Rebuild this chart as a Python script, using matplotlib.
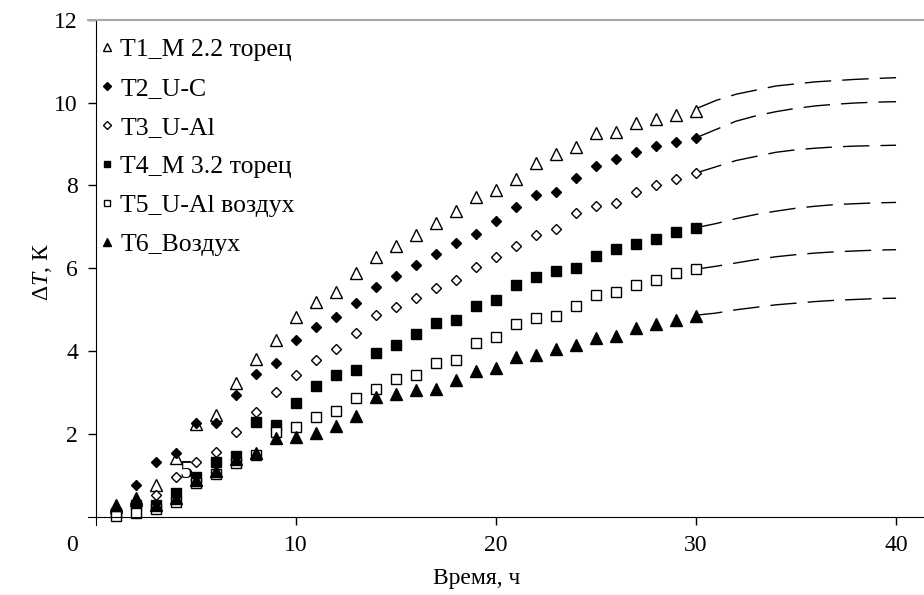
import numpy as np
import matplotlib.pyplot as plt

plt.rcParams['font.family'] = ['Liberation Serif', 'DejaVu Serif']
plt.rcParams['mathtext.fontset'] = 'custom'
plt.rcParams['mathtext.it'] = 'Liberation Serif:italic'
plt.rcParams['mathtext.rm'] = 'Liberation Serif'

# время замеров, ч
t = np.arange(1, 31)

T1 = [0.25, 0.45, 0.77, 1.42, 2.25, 2.46, 3.24, 3.81, 4.27, 4.83,
      5.19, 5.44, 5.88, 6.27, 6.54, 6.80, 7.09, 7.39, 7.71, 7.89,
      8.15, 8.55, 8.76, 8.93, 9.27, 9.30, 9.50, 9.60, 9.70, 9.80]
T2 = [0.20, 0.77, 1.33, 1.54, 2.26, 2.26, 2.94, 3.44, 3.72, 4.27,
      4.59, 4.83, 5.17, 5.54, 5.81, 6.07, 6.34, 6.60, 6.83, 7.14,
      7.47, 7.77, 7.85, 8.17, 8.48, 8.64, 8.80, 8.95, 9.05, 9.14]
T3 = [0.15, 0.35, 0.53, 0.97, 1.33, 1.58, 2.05, 2.54, 3.02, 3.42,
      3.80, 4.05, 4.43, 4.87, 5.07, 5.28, 5.52, 5.73, 6.04, 6.28,
      6.55, 6.80, 6.96, 7.34, 7.50, 7.57, 7.85, 8.00, 8.16, 8.29]
T4 = [0.10, 0.30, 0.29, 0.57, 0.97, 1.33, 1.48, 2.29, 2.22, 2.76,
      3.16, 3.43, 3.55, 3.95, 4.14, 4.41, 4.69, 4.75, 5.09, 5.24,
      5.59, 5.78, 5.94, 6.02, 6.30, 6.46, 6.58, 6.70, 6.88, 6.98]
T5 = [0.03, 0.10, 0.20, 0.37, 0.83, 1.05, 1.30, 1.50, 2.06, 2.18,
      2.41, 2.56, 2.88, 3.10, 3.32, 3.43, 3.71, 3.79, 4.19, 4.35,
      4.65, 4.81, 4.85, 5.09, 5.36, 5.44, 5.60, 5.72, 5.88, 5.98]
T6 = [0.30, 0.40, 0.30, 0.45, 0.90, 1.10, 1.40, 1.55, 1.90, 1.93,
      2.02, 2.20, 2.44, 2.90, 2.97, 3.06, 3.10, 3.30, 3.53, 3.59,
      3.85, 3.91, 4.05, 4.15, 4.31, 4.37, 4.55, 4.65, 4.75, 4.86]

# прогноз на 30-40 ч
t_pr = np.arange(30, 41)
T1_pr = [9.85, 10.05, 10.20, 10.30, 10.40, 10.45, 10.50, 10.53, 10.56, 10.58, 10.60]
T2_pr = [9.15, 9.35, 9.55, 9.68, 9.78, 9.86, 9.92, 9.96, 9.99, 10.01, 10.02]
T3_pr = [8.30, 8.45, 8.60, 8.70, 8.80, 8.86, 8.90, 8.93, 8.95, 8.96, 8.97]
T4_pr = [6.98, 7.08, 7.20, 7.30, 7.38, 7.45, 7.50, 7.54, 7.56, 7.58, 7.59]
T5_pr = [5.98, 6.05, 6.13, 6.21, 6.28, 6.33, 6.37, 6.40, 6.42, 6.44, 6.45]
T6_pr = [4.87, 4.92, 5.00, 5.06, 5.12, 5.16, 5.20, 5.23, 5.25, 5.27, 5.28]

names = ['T1_M 2.2 торец', 'T2_U-C', 'T3_U-Al', 'T4_M 3.2 торец',
         'T5_U-Al воздух', 'T6_Воздух']
dannye = [T1, T2, T3, T4, T5, T6]
prognoz = [T1_pr, T2_pr, T3_pr, T4_pr, T5_pr, T6_pr]

markery = ['^', 'D', 'D', 's', 's', '^']
zalivka = ['white', 'black', 'white', 'black', 'white', 'black']
razmery = [8, 5.5, 5.5, 7, 7, 8]

fig = plt.figure(figsize=(9.24, 5.95), dpi=100)
ax = fig.add_axes([0.0952, 0.1171, 0.9048, 0.8499])

for y, yp, m, fc, ms, name in zip(dannye, prognoz, markery, zalivka, razmery, names):
    ax.plot(t_pr, yp, color='black', lw=1, dashes=(19, 8), zorder=1)
    ax.plot(t, y, linestyle='none', marker=m, markersize=ms,
            markerfacecolor=fc, markeredgecolor='black', markeredgewidth=1,
            label=name, zorder=2)

ax.set_xlim(-0.4, 41.4)
ax.set_ylim(-0.2, 12)
ax.spines['left'].set_position(('data', 0))
ax.spines['bottom'].set_position(('data', 0))
ax.spines['right'].set_visible(False)
ax.spines['top'].set_color('#a8a8a8')
ax.spines['top'].set_linewidth(1.5)

ax.set_xticks([10, 20, 30, 40])
ax.set_yticks([2, 4, 6, 8, 10, 12])
ax.tick_params(direction='out', length=6, width=1, labelsize=17, pad=7)
ax.annotate('0', xy=(0, 0), xytext=(-17, -13), textcoords='offset points',
            ha='center', va='top', fontsize=17)
ax.text(4.5, 1.09, '5', ha='center', va='center', fontsize=19, zorder=5)

ax.set_xlabel('Время, ч', fontsize=17)
ax.xaxis.set_label_coords(0.465, -0.085)
ax.set_ylabel('Δ$T$, К', fontsize=17)
ax.yaxis.set_label_coords(-0.041, 0.5)

ax.legend(loc='upper left', bbox_to_anchor=(-0.006, 0.999), frameon=False,
          fontsize=18.5, handlelength=0.5, handletextpad=0.25,
          labelspacing=0.62, markerscale=0.7, borderaxespad=0.3)

fig.savefig('out.png', dpi=100)
